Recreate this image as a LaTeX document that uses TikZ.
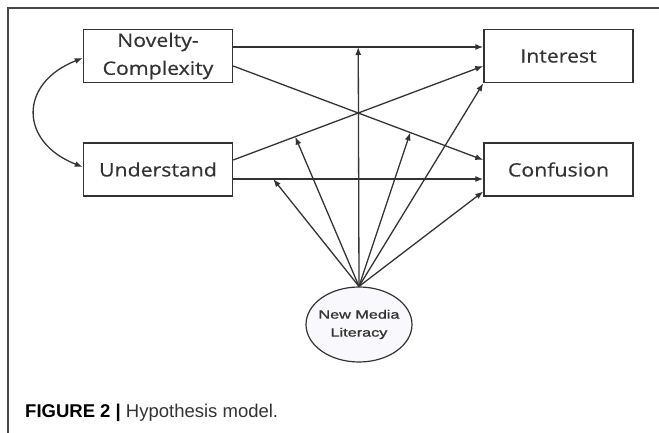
\documentclass[tikz,border=0pt]{standalone}
\usepackage{fontspec}
\usepackage{tikz}
\usetikzlibrary{arrows.meta,shapes.geometric}
\newfontfamily\boxfont[FakeStretch=1.15,FakeBold=0.6]{Open Sans}
\newfontfamily\nmlfont[FakeStretch=1.35,FakeBold=1.2]{Liberation Sans}
\newfontfamily\capfont{Liberation Sans}
\definecolor{linegray}{HTML}{333333}
\definecolor{nmlfill}{HTML}{F9F9FD}

\begin{document}
\begin{tikzpicture}[x=1pt,y=-1pt,
  var/.style={rectangle,draw=linegray,line width=1.4pt,minimum width=149pt,minimum height=53pt,align=center,text=linegray,font=\boxfont\fontsize{18.5}{28}\selectfont},
  effect/.style={draw=linegray,line width=1.3pt,-{Latex[length=8pt,width=6pt]}}]
\useasboundingbox (0,0) rectangle (659,433);
\draw[line width=1.5pt,draw=linegray!90] (8,433) -- (8,8) -- (659,8);

\node[var] (nov) at (158,56) {Novelty-\\Complexity};
\node[var] (und) at (158,169.5) {Understand};
\node[var] (int) at (558.5,56) {Interest};
\node[var] (con) at (558.5,169.5) {Confusion};
\node[ellipse,draw=linegray,line width=1.2pt,fill=nmlfill,minimum width=106pt,minimum height=75pt,inner sep=0pt,
  label={[align=center,text=linegray,font=\nmlfont\fontsize{12}{18}\selectfont]center:New Media\\Literacy}] (nml) at (359,324.5) {};

\draw[effect] ([yshift=9pt]nov.east) -- coordinate[pos=0.5] (a1) ([yshift=9pt]int.west);
\draw[effect] ([yshift=-10pt]nov.east) -- coordinate[pos=0.708] (a4) ([yshift=9.5pt]con.west);
\draw[effect] ([yshift=9.5pt]und.east) -- coordinate[pos=0.248] (a3) ([yshift=-10pt]int.west);
\draw[effect] ([yshift=-9.5pt]und.east) -- coordinate[pos=0.16] (a2) ([yshift=-9.5pt]con.west);
\draw[draw=linegray,line width=1.3pt,{Latex[length=8pt,width=6pt]}-{Latex[length=8pt,width=6pt]}]
  ([yshift=-2pt]nov.west) .. controls +(-64,25) and +(-64,-25) .. ([yshift=2.5pt]und.west);

\draw[effect] (nml.north) -- (a1);
\draw[effect] (nml.north) -- (a2);
\draw[effect] (nml.north) -- (a3);
\draw[effect] (nml.north) -- (a4);
\draw[effect] (nml.north) -- (int.south west);
\draw[effect] (nml.north) -- ([yshift=-22pt]con.west);

\node[anchor=base west,inner sep=0pt,text=linegray,font=\capfont\fontsize{18.5}{22}\selectfont] (cap) at (25,417)
  {\textcolor{black}{\bfseries FIGURE 2 |} Hypothesis model.};
\end{tikzpicture}
\end{document}
